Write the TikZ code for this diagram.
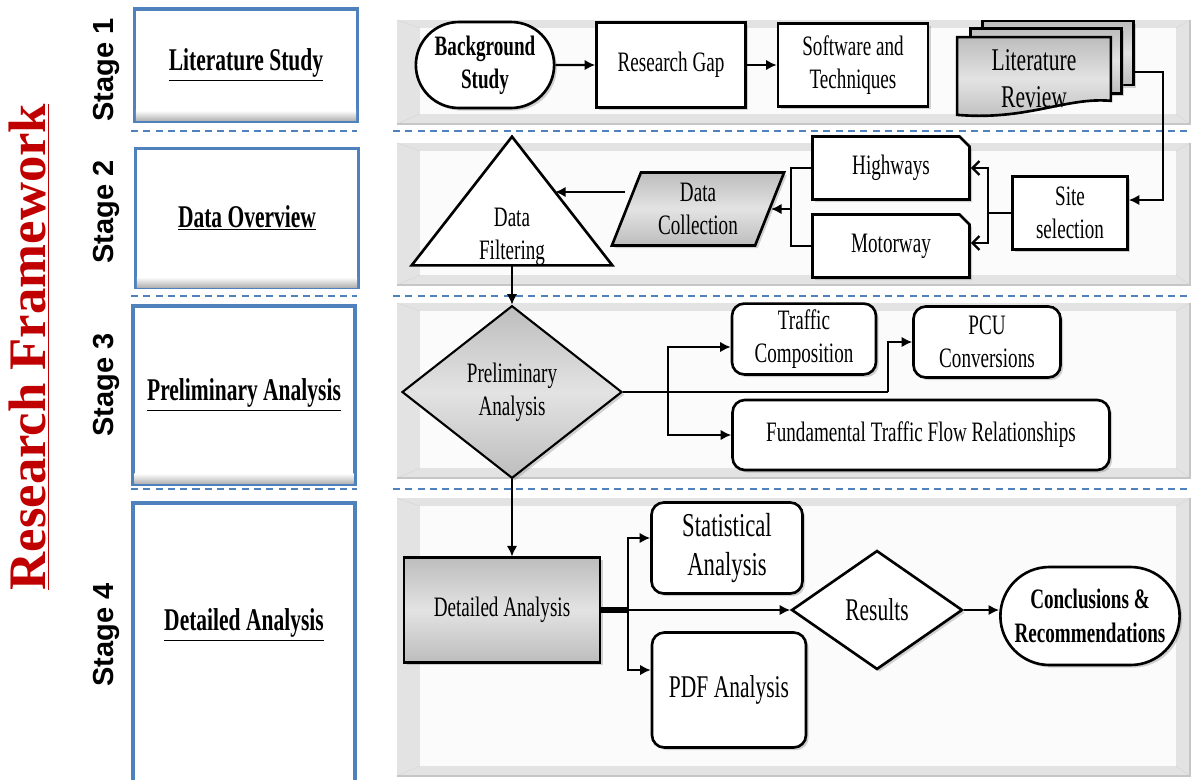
\documentclass[tikz,border=0pt]{standalone}
\usepackage{fontspec}
\setmainfont[FakeStretch=0.68]{Liberation Serif}
\newfontfamily\titlefont{Liberation Serif}
\newfontfamily\stagefont{Liberation Sans}
\usetikzlibrary{shapes.geometric,shapes.misc,arrows.meta,shadows,calc}
\definecolor{frameblue}{RGB}{79,129,189}
\definecolor{titlered}{RGB}{192,0,0}

\tikzset{
  flowbox/.style={draw, line width=1.5pt, fill=white, align=center,
    font=\fontsize{16}{19}\selectfont,
    drop shadow={opacity=0.35,shadow xshift=1.5pt,shadow yshift=-1.5pt}},
  roundbox/.style={flowbox, rounded corners=7pt},
  graybox/.style={flowbox, top color=gray!52, bottom color=gray!52, middle color=gray!22},
  snipbox/.style={flowbox, chamfered rectangle, chamfered rectangle corners=north east,
    chamfered rectangle xsep=0.1cm, chamfered rectangle ysep=0.1cm,
    minimum width=3.14cm, minimum height=1.26cm},
  stagebox/.style={draw=frameblue, line width=1.8pt, minimum width=4.46cm,
    font=\fontsize{18}{21}\selectfont\bfseries},
  stagetag/.style={rotate=90, font=\stagefont\fontsize{16.5}{19}\selectfont\bfseries},
  flowarrow/.style={line width=1.3pt, -{Latex[length=6pt,width=6pt]}},
  openarrow/.style={line width=1.3pt, -{Straight Barb[length=4pt,width=8pt]}},
  wire/.style={line width=1.3pt},
  stagesep/.style={draw=frameblue, line width=1pt, dash pattern=on 4pt off 3pt},
}

\begin{document}
\begin{tikzpicture}[x=0.02cm,y=-0.02cm]
\useasboundingbox (0,0) rectangle (1191,779);

% stage panels
\foreach \ya/\yb in {20/124,143/285,303/478,498/776} {
  \fill[gray!22] (397,\ya) rectangle (1190,\yb);
  \fill[gray!3] (420,\ya+8) rectangle (1176,\yb-10);
  \draw[gray!30] (397,\ya) -- (420,\ya+8) (1190,\ya) -- (1176,\ya+8)
    (397,\yb) -- (420,\yb-10) (1190,\yb) -- (1176,\yb-10);
  \draw[gray!45, line width=1pt] (397,\yb) -- (1190,\yb) -- (1190,\ya);
}
\foreach \y in {131,296,489} {
  \draw[stagesep] (131,\y) -- (357,\y);
  \draw[stagesep] (393,\y) -- (1191,\y);
}

% left column
\node[stagebox, minimum height=2.24cm] (ls) at (246,65) {\underline{Literature Study}};
\node[stagebox, minimum height=2.78cm] (do) at (247,218) {\underline{Data Overview}};
\node[stagebox, minimum width=4.44cm, minimum height=3.56cm] (pa) at (244,395) {\underline{Preliminary Analysis}};
\node[stagebox, minimum width=4.44cm, minimum height=5.6cm] (da) at (244,643) {};
\node[font=\fontsize{18}{21}\selectfont\bfseries] (datxt) at (244,625) {\underline{Detailed Analysis}};
\foreach \n in {ls,do,pa} {
  \shade[top color=white, bottom color=gray!60] ($(\n.south west)+(3,-12)$) rectangle ($(\n.south east)+(-3,-2)$);
}

\node[rotate=90, text=titlered, font=\titlefont\fontsize{30}{34}\selectfont\bfseries] (title) at (29,347) {\underline{Research Framework}};
\node[stagetag] (st1) at (106,70) {Stage 1};
\node[stagetag] (st2) at (106,212) {Stage 2};
\node[stagetag] (st3) at (106,385) {Stage 3};
\node[stagetag] (st4) at (106,635) {Stage 4};

% stage 1
\node[flowbox, rounded rectangle, minimum width=3cm, minimum height=1.72cm,
  font=\fontsize{16}{19}\selectfont\bfseries] (bs) at (485,65) {Background\\Study};
\node[flowbox, minimum width=2.98cm, minimum height=1.7cm] (rg) at (671,65) {Research Gap};
\node[flowbox, minimum width=3cm, minimum height=1.66cm] (sw) at (853,65) {Software and\\Techniques};
\node[graybox, minimum width=3.02cm, minimum height=1.28cm] (lit3) at (1058,53) {};
\node[graybox, minimum width=3.02cm, minimum height=1.3cm] (lit2) at (1046,61) {};
\path node[minimum width=3.06cm, minimum height=1.54cm] (lit) at (1034,76) {};
\draw[line width=1.5pt, top color=gray!52, bottom color=gray!52, middle color=gray!22]
  (lit.north west) -- (lit.north east) -- ([yshift=0.28cm]lit.south east)
  .. controls ([xshift=-0.9cm,yshift=0.36cm]lit.south east) and ([xshift=1.4cm,yshift=-0.12cm]lit.south west)
  .. (lit.south west) -- cycle;
\node[align=center, font=\fontsize{18}{21}\selectfont] (littxt) at (1034,79) {Literature\\Review};

% stage 2
\node[flowbox, minimum width=2.3cm, minimum height=1.46cm] (site) at (1070,213) {Site\\selection};
\node[snipbox] (hw) at (891,168) {Highways};
\node[snipbox] (mw) at (891,246) {Motorway};
\node[graybox, trapezium, trapezium left angle=70, trapezium right angle=110,
  trapezium stretches=true, minimum width=3.46cm, minimum height=1.46cm] (dc) at (698,209) {Data\\Collection};
\node[minimum width=4cm, minimum height=2.56cm] (filt) at (512,201) {};
\filldraw[fill=white, line width=1.5pt, line join=miter] (filt.south west) -- (filt.north) -- (filt.south east) -- cycle;
\node[align=center, font=\fontsize{16}{19}\selectfont] (filttxt) at (512,237) {Data\\Filtering};

% stage 3
\node[graybox, diamond, line width=1.2pt, minimum width=4.4cm, minimum height=3.02cm] (pre) at (512,392) {Preliminary\\Analysis};
\node[roundbox, minimum width=2.88cm, minimum height=1.4cm] (tc) at (804,339) {Traffic\\Composition};
\node[roundbox, minimum width=2.94cm, minimum height=1.42cm] (pcu) at (987,342) {PCU\\Conversions};
\node[roundbox, minimum width=7.54cm, minimum height=1.4cm] (fr) at (921,435) {Fundamental Traffic Flow Relationships};

% stage 4
\node[graybox, rectangle, line width=1.2pt, minimum width=3.92cm, minimum height=2.1cm] (det) at (502,610) {Detailed Analysis};
\node[roundbox, minimum width=3.02cm, minimum height=1.82cm, font=\fontsize{19}{22}\selectfont] (st) at (727,548) {Statistical\\Analysis};
\node[roundbox, minimum width=3.08cm, minimum height=2.3cm, font=\fontsize{18}{21}\selectfont] (pdf) at (729,690) {PDF Analysis};
\node[flowbox, diamond, minimum width=3.42cm, minimum height=2.38cm, font=\fontsize{18}{21}\selectfont] (res) at (877,610) {Results};
\node[flowbox, rounded rectangle, minimum width=3.82cm, minimum height=1.96cm,
  font=\fontsize{16}{19}\selectfont\bfseries] (conc) at (1090,616) {Conclusions \&\\Recommendations};

% connectors
\draw[flowarrow] (bs) -- (rg);
\draw[flowarrow] (rg) -- (sw);
\draw[flowarrow] ([yshift=-0.38cm]lit3.east) -- ++(28,0) |- ([yshift=0.26cm]site.east);
\coordinate (sj) at ($(site.west)+(-23,0)$);
\draw[wire] (site.west) -- (sj);
\draw[openarrow] (sj) |- (hw.east);
\draw[openarrow] (sj) |- ([yshift=0.06cm]mw.east);
\coordinate (cj) at ($(dc.east)+(20,0)$);
\draw[wire] (hw.west) -| (cj);
\draw[wire] (mw.west) -| (cj);
\draw[flowarrow] (cj) -- (dc.east);
\coordinate (fin) at ($(filt.north)!0.43!(filt.south east)$);
\draw[flowarrow] (dc.west |- fin) -- (fin);
\draw[flowarrow] (filt.south) -- (pre.north);
\coordinate (pj) at ($(pre.east)+(45,0)$);
\coordinate (pk) at ($(pre.east)+(265,0)$);
\draw[wire] (pre.east) -- (pk);
\draw[flowarrow] (pk) |- (pcu.west);
\draw[flowarrow] (pj) |- ([yshift=-0.16cm]tc.west);
\draw[flowarrow] (pj) |- (fr.west);
\draw[flowarrow] (pre.south) -- (pre.south |- det.north);
\coordinate (dj) at ($(det.east)+(27,0)$);
\draw[line width=3pt] (det.east) -- (dj);
\draw[flowarrow] (dj) -- (res.west);
\draw[flowarrow] (dj) |- ([yshift=0.2cm]st.west);
\draw[flowarrow] (dj) |- ([yshift=0.4cm]pdf.west);
\draw[flowarrow] (res.east) -- (res.east -| conc.west);
\end{tikzpicture}
\end{document}
